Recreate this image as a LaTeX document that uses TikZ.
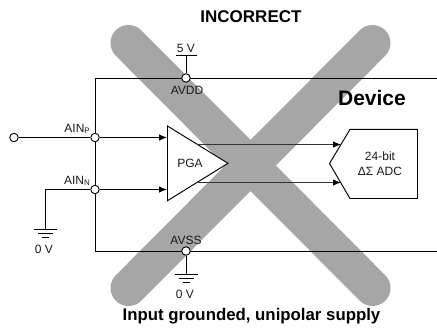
\documentclass[tikz,border=0pt]{standalone}
\usepackage{fontspec}
\setmainfont{Liberation Sans}
\usetikzlibrary{arrows.meta,calc}
\newcommand{\lowsub}[1]{\raisebox{-1.5pt}{\fontsize{8}{8}\selectfont #1}}
\definecolor{crossgray}{HTML}{A6A6A6}
\tikzset{
  x=1pt,y=-1pt,
  wire/.style={draw=black,line width=0.95pt},
  signal/.style={draw=black!80,line width=0.9pt,-{Latex[length=8pt,width=6.5pt,color=black,fill=black]}},
  pin/.style={circle,draw=black,fill=white,line width=0.9pt,inner sep=0pt,minimum size=8.5pt},
  lbl/.style={inner sep=0pt,font=\fontsize{12}{12}\selectfont,text=black!90},
  head/.style={inner sep=0pt,font=\fontsize{17}{17}\selectfont\bfseries},
  cross/.style={draw=crossgray,line width=36pt,line cap=round}
}
\begin{document}
\begin{tikzpicture}
\useasboundingbox (0,0) rectangle (437,330);
% the cross
\coordinate (xa) at (128.5,43);
\coordinate (xb) at (372.5,288);
\coordinate (xc) at (372.5,43);
\coordinate (xd) at (128.5,288);
\draw[cross] (xa) -- (xb);
\draw[cross] (xc) -- (xd);
% device outline
\coordinate (boxTR) at (437,78.4);
\coordinate (boxTL) at (95.4,78.4);
\coordinate (boxBL) at (95.4,251.4);
\coordinate (boxBR) at (437,251.4);
\draw[wire] (boxTR) -- (boxTL) -- (boxBL) -- (boxBR);
% PGA
\coordinate (pgaT) at (167.5,126);
\coordinate (pgaB) at (167.5,200.7);
\coordinate (pgaA) at (228,163.3);
\draw[wire,fill=white] (pgaT) -- (pgaA) -- (pgaB) -- cycle;
\node[lbl] (pga) at (190,163) {PGA};
\coordinate (pgaOutP) at ($(pgaT)!0.48!(pgaA)$);
\coordinate (pgaOutN) at ($(pgaB)!0.47!(pgaA)$);
\coordinate (pgaInP) at (167,137.5);
\coordinate (pgaInN) at (167,189.5);
% ADC
\coordinate (adcTL) at (350,129.4);
\coordinate (adcTR) at (417.5,129.4);
\coordinate (adcBR) at (417.5,198.5);
\coordinate (adcBL) at (350,198.5);
\coordinate (adcP) at (329.5,163.5);
\draw[wire] (adcTL) -- (adcTR) -- (adcBR) -- (adcBL) -- (adcP) -- cycle;
\coordinate (adcInP) at (341,144.5);
\coordinate (adcInN) at (341,182.5);
\node[lbl,align=center,font=\fontsize{12}{15}\selectfont] (adc) at (380,163.5) {24-bit\\ΔΣ ADC};
\draw[signal] (pgaOutP |- adcInP) -- (adcInP);
\draw[signal] (pgaOutN |- adcInN) -- (adcInN);
% pins
\node[pin] (src) at (14,137.5) {};
\node[pin] (ainp) at (95,137.5) {};
\node[pin] (ainn) at (95,189.5) {};
\node[pin] (avdd) at (186,78) {};
\node[pin] (avss) at (186,251) {};
\coordinate (v5) at (186,55);
\coordinate (v5a) at (176,55);
\coordinate (v5b) at (197,55);
\coordinate (elbow) at (45.5,189.5);
\coordinate (gnda) at (45.5,229.5);
\coordinate (gndb) at (186,274.5);
\draw[wire] (src) -- (ainp);
\draw[signal,draw=black] (ainp) -- (pgaInP);
\draw[signal,draw=black] (ainn) -- (pgaInN);
\draw[wire] (ainn) -- (elbow) -- (gnda);
\draw[wire] (avdd) -- (v5);
\draw[wire] (v5a) -- (v5b);
\draw[wire] (avss) -- (gndb);
% grounds
\foreach \g in {gnda,gndb}{
  \draw[wire] ($(\g)+(-11.5,0)$) -- ($(\g)+(11.5,0)$);
  \draw[wire] ($(\g)+(-7.5,4)$) -- ($(\g)+(7.5,4)$);
  \draw[wire] ($(\g)+(-3.5,8)$) -- ($(\g)+(3.5,8)$);
}
% labels
\node[head] (title) at (251,16.5) {INCORRECT};
\node[head,font=\fontsize{16.8}{16.8}\selectfont\bfseries] (caption) at (251.5,316.5) {Input grounded, unipolar supply};
\node[head,font=\fontsize{21}{21}\selectfont\bfseries] (device) at (372,97.5) {Device};
\node[lbl] (l5v) at (186,48) {5 V};
\node[lbl] (lavdd) at (187,90) {AVDD};
\node[lbl] (lavss) at (186,240) {AVSS};
\node[lbl,anchor=east] (lainp) at (90,129) {AIN\lowsub{P}};
\node[lbl,anchor=east] (lainn) at (90,181) {AIN\lowsub{N}};
\node[lbl] (l0a) at (44,249) {0 V};
\node[lbl] (l0b) at (185,294) {0 V};
\end{tikzpicture}
\end{document}
